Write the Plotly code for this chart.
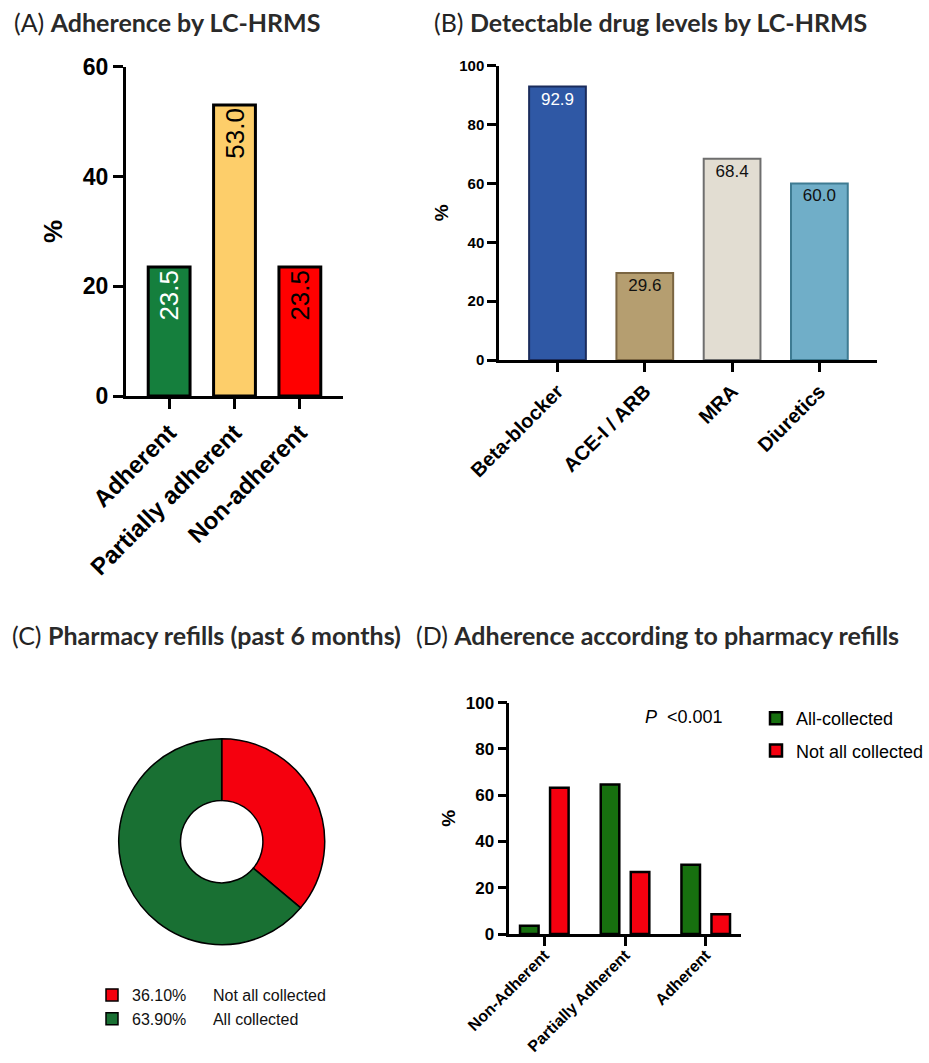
import plotly.graph_objects as go

# ---- data ----
adh_categories = ["Adherent", "Partially adherent", "Non-adherent"]
adh_values = [23.5, 53.0, 23.5]

drug_categories = ["Beta-blocker", "ACE-I / ARB", "MRA", "Diuretics"]
drug_values = [92.9, 29.6, 68.4, 60.0]

refill_labels = ["Not all collected", "All collected"]
refill_values = [36.10, 63.90]

refill_groups = ["Non-Adherent", "Partially Adherent", "Adherent"]
all_collected = [3.6, 64.6, 29.9]
not_all_collected = [63.2, 26.8, 8.5]

p_value_text = "<0.001"

# ---- page geometry helpers (pixel -> paper) ----
W, H = 929, 1063


def px(x):
    return x / W


def py(y):
    return 1 - y / H


ARIAL = "Arial, Liberation Sans, sans-serif"
TITLE_FONT = "Lato, Open Sans, sans-serif"

fig = go.Figure()

# (A) adherence by LC-HRMS
fig.add_trace(go.Bar(
    x=adh_categories, y=adh_values, width=0.64,
    marker=dict(color=["#157F3D", "#FDCE6A", "#FF0000"],
                line=dict(color="black", width=3)),
    texttemplate="%{y:.1f}", textposition="inside", insidetextanchor="end",
    textangle=-90, constraintext="none",
    textfont=dict(family=ARIAL, size=26, color=["white", "black", "black"]),
    xaxis="x", yaxis="y", showlegend=False,
))

# (B) detectable drug levels
fig.add_trace(go.Bar(
    x=drug_categories, y=drug_values, width=0.65,
    marker=dict(color=["#2F58A5", "#B59E70", "#E2DDD2", "#70AEC8"],
                line=dict(color=["#1B2C5C", "#7A6542", "#6E6E6E", "#3E7B92"], width=2)),
    texttemplate="%{y:.1f}", textposition="inside", insidetextanchor="end",
    textangle=0, constraintext="none",
    textfont=dict(family=ARIAL, size=17, color=["white", "#111", "#111", "#111"]),
    xaxis="x2", yaxis="y2", showlegend=False,
))

# (C) pharmacy refills donut
nbsp = "\u00a0" * 6
fig.add_trace(go.Pie(
    labels=[f"{v:.2f}%{nbsp}{lab}" for v, lab in zip(refill_values, refill_labels)],
    values=refill_values, hole=0.4, sort=False, direction="clockwise", rotation=0,
    marker=dict(colors=["#F5000E", "#197033"], line=dict(color="black", width=1.5)),
    textinfo="none",
    domain=dict(x=[px(221.7 - 103), px(221.7 + 103)], y=[py(841.7 + 103), py(841.7 - 103)]),
    legend="legend2",
))

# (D) adherence according to pharmacy refills
bw = 0.23
fig.add_trace(go.Bar(
    x=refill_groups, y=all_collected, name="All-collected",
    width=bw, offset=-0.186 - bw / 2, legendgroup="a",
    marker=dict(color="#17700F", line=dict(color="black", width=2.5)),
    xaxis="x3", yaxis="y3",
))
fig.add_trace(go.Bar(
    x=refill_groups, y=not_all_collected, name="Not all collected",
    width=bw, offset=0.186 - bw / 2, legendgroup="b",
    marker=dict(color="#F5000F", line=dict(color="black", width=2.5)),
    xaxis="x3", yaxis="y3",
))


def xax(domain, rng, size, ticklen, width, standoff=0):
    return dict(domain=domain, range=rng, type="category", showgrid=False, zeroline=False,
                automargin=False,
                showline=True, linecolor="black", linewidth=width,
                ticks="outside", ticklen=ticklen, tickwidth=width, tickcolor="black",
                ticklabelstandoff=standoff,
                tickangle=-45, tickfont=dict(family=ARIAL, size=size, color="black", weight="bold"),
                fixedrange=True)


def yax(domain, rng, dtick, size, ticklen, width, title_size, standoff):
    return dict(domain=domain, range=rng, dtick=dtick, tick0=0, showgrid=False, zeroline=False,
                automargin=False,
                showline=True, linecolor="black", linewidth=width,
                ticks="outside", ticklen=ticklen, tickwidth=width, tickcolor="black",
                tickfont=dict(family=ARIAL, size=size, color="black", weight="bold"),
                title=dict(text="%", font=dict(family=ARIAL, size=title_size, color="black", weight="bold"),
                           standoff=standoff),
                fixedrange=True)


fig.update_layout(
    template="none",
    width=W, height=H, margin=dict(l=0, r=0, t=0, b=0, pad=0, autoexpand=False),
    paper_bgcolor="white", plot_bgcolor="white",
    barmode="overlay",
    xaxis=xax([px(126), px(343)], [-0.66, 2.66], 24, 10, 3),
    yaxis=yax([py(396), py(66.7)], [0, 60], 20, 23, 10, 3, 26, 13),
    xaxis2=dict(xax([px(499), px(877)], [-0.67, 3.66], 20, 9, 2.5), anchor="y2"),
    yaxis2=dict(yax([py(360), py(65.7)], [0, 100], 20, 15, 9, 2.5, 19, 6), anchor="x2"),
    xaxis3=dict(xax([px(509.3), px(741)], [-0.434, 2.437], 16, 9, 2.5, -6), anchor="y3"),
    yaxis3=dict(yax([py(934), py(702.7)], [0, 100], 20, 17, 9, 2.5, 19, 6), anchor="x3"),
    legend=dict(x=px(756), y=py(700), xanchor="left", yanchor="top",
                font=dict(family=ARIAL, size=18, color="black"),
                traceorder="grouped", tracegroupgap=6, bgcolor="rgba(0,0,0,0)"),
    legend2=dict(x=px(92), y=py(978), xanchor="left", yanchor="top",
                 font=dict(family=ARIAL, size=16, color="#111"),
                 bgcolor="rgba(0,0,0,0)"),
    showlegend=True,
)

# panel headings
headings = [
    (12, 22, "(A) ", "Adherence by LC-HRMS"),
    (432, 22, "(B) ", "Detectable drug levels by LC-HRMS"),
    (10, 635, "(C) ", "Pharmacy refills (past 6 months)"),
    (414, 635, "(D) ", "Adherence according to pharmacy refills"),
]
for x0, y0, tag, text in headings:
    fig.add_annotation(
        x=px(x0), y=py(y0), xref="paper", yref="paper", xanchor="left", yanchor="middle",
        text=f"<span style='color:#222'>{tag}</span><b>{text}</b>", showarrow=False,
        font=dict(family=TITLE_FONT, size=25, color="#2a2a2a"),
    )

# significance note in panel D
fig.add_annotation(
    x=px(643), y=py(717), xref="paper", yref="paper", xanchor="left", yanchor="middle",
    text="<i>P</i>\u00a0\u00a0" + p_value_text.replace("<", "&lt;"), showarrow=False,
    font=dict(family=ARIAL, size=18, color="black"),
)

fig.write_html("out.html")
